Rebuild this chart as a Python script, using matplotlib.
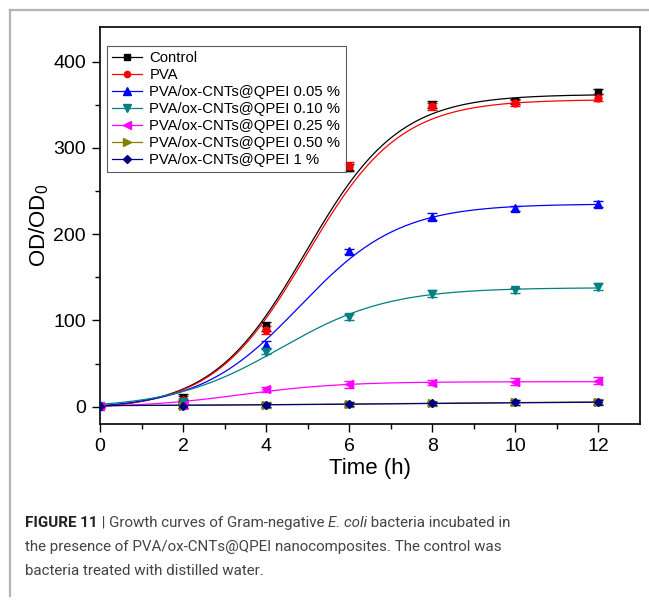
import numpy as np
import matplotlib
matplotlib.use('Agg')
import matplotlib.pyplot as plt
from matplotlib.lines import Line2D

plt.rcParams['font.family'] = ['Liberation Sans', 'DejaVu Sans']
plt.rcParams['mathtext.fontset'] = 'custom'
plt.rcParams['mathtext.rm'] = 'Liberation Sans'
plt.rcParams['mathtext.it'] = 'Liberation Sans:italic'

# measured time points (h)
time_h = [0, 2, 4, 6, 8, 10, 12]

labels = [
    'Control',
    'PVA',
    'PVA/ox-CNTs@QPEI 0.05 %',
    'PVA/ox-CNTs@QPEI 0.10 %',
    'PVA/ox-CNTs@QPEI 0.25 %',
    'PVA/ox-CNTs@QPEI 0.50 %',
    'PVA/ox-CNTs@QPEI 1 %',
]

control = [1, 10, 93, 277, 350, 354, 365]
pva = [1, 8, 89, 279, 348, 352, 358]
qpei_005 = [1, 5, 72, 180, 220, 230, 235]
qpei_010 = [1, 6, 64, 104, 131, 135, 139]
qpei_025 = [1, 2, 20, 26, 28, 29, 30]
qpei_050 = [1, 1, 2, 3, 4, 5, 6]
qpei_1 = [1, 1, 2, 3, 4, 5, 5]

err_control = [1, 5, 5, 4, 4, 3, 3]
err_pva = [1, 4, 5, 5, 4, 3, 4]
err_005 = [1, 3, 4, 3, 4, 3, 3]
err_010 = [1, 3, 3, 3, 4, 3, 4]
err_025 = [1, 3, 3, 4, 3, 4, 4]
err_050 = [1, 3, 3, 3, 3, 3, 3]
err_1 = [1, 2, 2, 2, 2, 3, 3]

# Boltzmann fit parameters (A1, A2, x0, dx)
fit_params = [
    (-4, 362, 4.95, 1.12),
    (-4, 356, 4.97, 1.12),
    (-3, 235, 4.8, 1.2),
    (-2, 138, 4.35, 1.3),
    (-1, 29, 3.4, 1.2),
    (0.5, 7.5, 8.0, 4.0),
    (0.5, 7.0, 8.0, 4.0),
]

colors = ['#000000', '#ff0000', '#0000ff', '#008080', '#ff00ff', '#808000', '#000080']
markers = ['s', 'o', '^', 'v', '<', '>', 'D']
msizes = [5, 5, 6, 6, 6, 6, 4.5]


def boltzmann(x, a1, a2, x0, dx):
    return a2 + (a1 - a2) / (1 + np.exp((x - x0) / dx))


def draw_caption(fig, pieces, x, y, size, color):
    # draw a line of text made of pieces with different styles
    renderer = fig.canvas.get_renderer()
    for text, style in pieces:
        kw = dict(fontsize=size, color=color, family=['Roboto', 'DejaVu Sans'],
                  va='baseline', ha='left', transform=None)
        if style == 'bold':
            kw['fontweight'] = 'bold'
            kw['color'] = '#222222'
        elif style == 'italic':
            kw['fontstyle'] = 'italic'
        t = fig.text(x, y, text, **kw)
        bb = t.get_window_extent(renderer)
        x = bb.x1


series = [control, pva, qpei_005, qpei_010, qpei_025, qpei_050, qpei_1]
errors = [err_control, err_pva, err_005, err_010, err_025, err_050, err_1]

fig = plt.figure(figsize=(6.49, 6.02), dpi=100)
ax = fig.add_axes([0.1541, 0.2957, 0.8320, 0.6594])

xs = np.linspace(0, 12, 300)
handles = []
for i in range(len(series)):
    c = colors[i]
    ax.plot(xs, boltzmann(xs, *fit_params[i]), color=c, lw=0.9, zorder=2)
    ax.errorbar(time_h, series[i], yerr=errors[i], fmt=markers[i], color=c,
                ms=msizes[i], mec=c, mfc=c, elinewidth=1.0, capsize=3.5,
                capthick=1.0, zorder=3)
    handles.append(Line2D([], [], color=c, lw=0.9, marker=markers[i],
                          ms=msizes[i] - 0.5, mfc=c, mec=c))

ax.set_xlim(0, 13)
ax.set_ylim(-20, 440)
ax.set_xticks([0, 2, 4, 6, 8, 10, 12])
ax.set_xticks([1, 3, 5, 7, 9, 11], minor=True)
ax.set_yticks([0, 100, 200, 300, 400])
ax.set_yticks([50, 150, 250, 350], minor=True)
ax.tick_params(which='major', direction='out', length=6, width=1.0, labelsize=14, pad=4)
ax.tick_params(which='minor', direction='out', length=3.5, width=1.0)
for sp in ax.spines.values():
    sp.set_linewidth(1.2)

ax.set_xlabel('Time (h)', fontsize=16, labelpad=2)
ax.set_ylabel(r'OD/OD$_0$', fontsize=16, labelpad=2)

leg = ax.legend(handles, labels, loc='upper left', bbox_to_anchor=(0.013, 0.952),
                borderaxespad=0, fontsize=10.7, frameon=True, fancybox=False,
                handlelength=2.0, handletextpad=0.5, labelspacing=0.2,
                borderpad=0.35)
leg.get_frame().set_edgecolor('#333333')
leg.get_frame().set_linewidth(0.8)

# gray frame of the figure panel
fig.add_artist(Line2D([10 / 649, 1.0], [1 - 10 / 602, 1 - 10 / 602],
                      transform=fig.transFigure, color='#b4b4b4', lw=1.6))
fig.add_artist(Line2D([10 / 649, 10 / 649], [1 - 10 / 602, 1 - 596 / 602],
                      transform=fig.transFigure, color='#b4b4b4', lw=1.6))

fig.canvas.draw()
cap_color = '#444444'
cap_size = 10.9
draw_caption(fig, [('FIGURE 11', 'bold'), (' | Growth curves of Gram-negative ', 'normal'),
                   ('E. coli', 'italic'), (' bacteria incubated in', 'normal')],
             25, 602 - 527, cap_size, cap_color)
draw_caption(fig, [('the presence of PVA/ox-CNTs@QPEI nanocomposites. The control was', 'normal')],
             25, 602 - 551, cap_size, cap_color)
draw_caption(fig, [('bacteria treated with distilled water.', 'normal')],
             25, 602 - 575, cap_size, cap_color)

fig.savefig('out.png', dpi=100)
